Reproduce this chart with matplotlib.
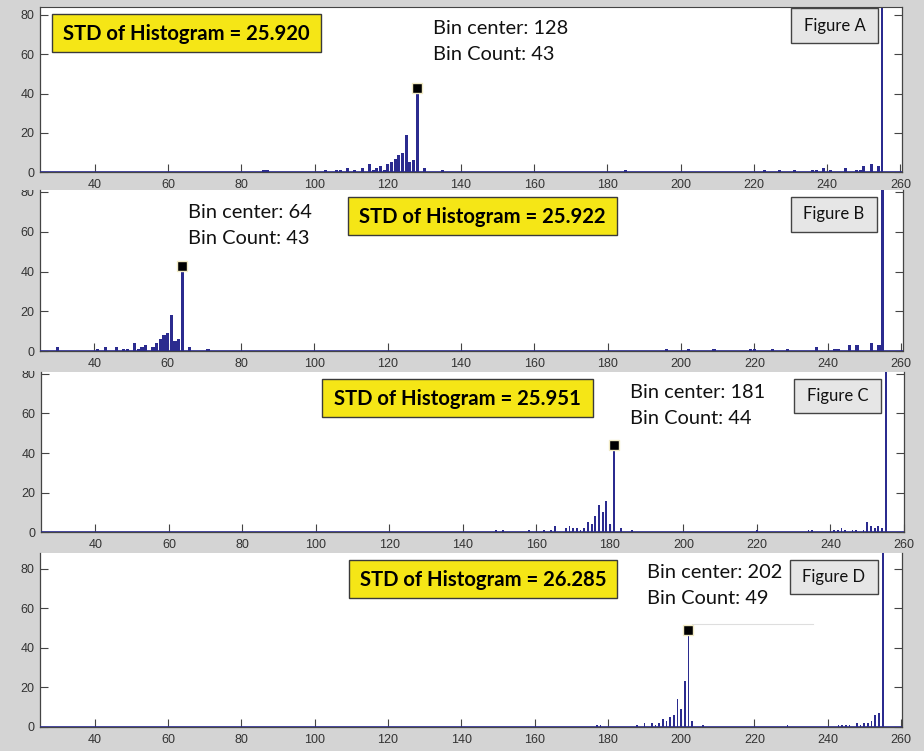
import matplotlib
matplotlib.use('Agg')
import matplotlib.pyplot as plt
from matplotlib.patches import Rectangle
from matplotlib.transforms import Bbox, TransformedBbox

# histogram bins / counts (255 spike is clipped)
a_bins = [86, 87, 103, 106, 107, 109, 111, 113, 115, 116, 117, 118, 119, 120, 121, 122, 123, 124, 125,
          126, 127, 128, 130, 135, 185, 223, 227, 231, 236, 237, 239, 241, 245, 248, 249, 250, 252, 254, 255]
a_counts = [1, 1, 1, 1, 1, 2, 1, 2, 4, 1, 2, 3, 1, 4, 5, 7, 9, 10, 19,
            5, 6, 40, 2, 1, 1, 1, 1, 1, 1, 1, 2, 1, 2, 1, 1, 3, 4, 3, 300]

b_bins = [30, 41, 43, 46, 48, 49, 51, 52, 53, 54, 56, 57, 58, 59, 60, 61, 62, 63, 64, 66, 71,
          196, 202, 209, 219, 220, 225, 229, 237, 242, 243, 246, 248, 252, 254, 255]
b_counts = [2, 1, 2, 2, 1, 1, 4, 1, 2, 3, 2, 4, 6, 8, 9, 18, 5, 6, 40, 2, 1,
            1, 1, 1, 1, 1, 1, 1, 2, 1, 1, 3, 3, 4, 3, 300]

c_bins = [149, 151, 158, 162, 164, 165, 168, 169, 170, 171, 172, 173, 174, 175, 176, 177, 178, 179, 180,
          181, 183, 186, 220, 234, 235, 241, 242, 243, 244, 246, 247, 249, 250, 251, 252, 253, 254, 255]
c_counts = [1, 1, 1, 1, 1, 3, 2, 3, 2, 2, 1, 2, 5, 4, 8, 14, 10, 16, 4,
            41, 2, 1, 1, 1, 1, 1, 1, 2, 1, 1, 1, 1, 5, 3, 2, 3, 2, 300]

d_bins = [177, 178, 188, 190, 192, 193, 194, 195, 196, 197, 198, 199, 200, 201, 202, 203, 206,
          229, 243, 244, 245, 246, 248, 249, 250, 251, 252, 253, 254, 255]
d_counts = [1, 1, 1, 2, 2, 1, 2, 4, 3, 5, 6, 14, 9, 23, 46, 3, 1,
            1, 1, 1, 1, 1, 2, 1, 2, 2, 3, 6, 7, 300]

peak_centers = [128, 64, 181, 202]
peak_counts = [43, 43, 44, 49]
std_values = ['25.920', '25.922', '25.951', '26.285']
panel_names = ['Figure A', 'Figure B', 'Figure C', 'Figure D']

W, H = 924, 751
BG = '#d4d4d4'
BAR = '#2b2b8f'
INK = '#333333'

fig = plt.figure(figsize=(W / 100, H / 100), dpi=100, facecolor=BG)


def px_rect(l, t, r, b):
    return [l / W, 1 - b / H, (r - l) / W, (b - t) / H]


def draw_panel(rect, xlim, ytop, bins, counts, width, spike_w, peak, band, top_spine):
    l, t, r, b = rect
    ax = fig.add_axes(px_rect(l, t, r, b))
    widths = [spike_w if x == 255 else width for x in bins]
    ax.bar(bins, counts, width=widths, color=BAR, edgecolor='none', zorder=2)
    ax.axhline(0, color=BAR, lw=1.2, zorder=3)
    ax.plot([peak[0]], [peak[1]], 's', ms=6.5, mfc='black', mec='#f2ebc6', mew=1,
            clip_on=False, zorder=6)
    ax.set_xlim(*xlim)
    ax.set_ylim(0, ytop)
    ax.set_xticks(range(40, 261, 20))
    ax.set_yticks(range(0, 81, 20))
    ax.tick_params(direction='in', length=6, width=0.8, color='#444444',
                   labelsize=9, labelcolor=INK, right=True)
    ax.tick_params(axis='x', pad=5)
    ax.tick_params(axis='y', pad=4)
    for s in ['left', 'right', 'bottom']:
        ax.spines[s].set_color('#444444')
        ax.spines[s].set_linewidth(0.9)
    ax.spines['top'].set_visible(top_spine)
    ax.spines['top'].set_color('#444444')
    # each panel is a cropped screenshot: clip its labels to its own band
    cb = TransformedBbox(Bbox.from_extents(0, 1 - band[1] / H, 1, 1 - band[0] / H), fig.transFigure)
    for lab in ax.get_xticklabels() + ax.get_yticklabels():
        lab.set_fontfamily('Liberation Sans')
        lab.set_clip_box(cb)
        lab.set_clip_on(True)
    return ax


panels = [
    dict(rect=(40, 7, 901.5, 172.3), xlim=(25, 260.3), ytop=84, bins=a_bins, counts=a_counts,
         width=0.85, spike_w=0.45, band=(0, 189.5), top=True),
    dict(rect=(40, 190, 902.5, 351.3), xlim=(25.2, 260.4), ytop=81, bins=b_bins, counts=b_counts,
         width=0.85, spike_w=0.9, band=(189.5, 370.5), top=False),
    dict(rect=(41, 371.5, 904, 532.3), xlim=(25.2, 260), ytop=81.2, bins=c_bins, counts=c_counts,
         width=0.5, spike_w=0.6, band=(370.5, 551), top=False),
    dict(rect=(40, 552.5, 902, 726.7), xlim=(25, 260.3), ytop=88.3, bins=d_bins, counts=d_counts,
         width=0.45, spike_w=0.55, band=(551, 751), top=False),
]

axes = []
for i, p in enumerate(panels):
    axes.append(draw_panel(p['rect'], p['xlim'], p['ytop'], p['bins'], p['counts'], p['width'],
                           p['spike_w'], (peak_centers[i], peak_counts[i]), p['band'], p['top']))

# thin grey leader line next to the data cursor in panel D
axes[3].plot([peak_centers[3] + 1, 236], [52, 52], color='#dedede', lw=0.8, zorder=1)

# overlay in pixel coordinates for the annotation boxes
ov = fig.add_axes([0, 0, 1, 1], zorder=10)
ov.set_xlim(0, W)
ov.set_ylim(H, 0)
ov.axis('off')
ov.patch.set_alpha(0)

std_boxes = [(52, 14, 321, 52), (348, 197, 617, 235), (322, 379, 593, 417), (349, 560, 617, 598)]
bin_text_pos = [(433, 28), (188, 213), (630, 392), (647, 573)]
name_boxes = [(791, 8, 878, 43), (791, 197, 877, 232), (794, 379, 881, 413), (790, 560, 878, 594)]

for i in range(4):
    l, t, r, b = std_boxes[i]
    ov.add_patch(Rectangle((l, t), r - l, b - t, facecolor='#f5e616', edgecolor='#3a3a3a', lw=1))
    ov.text((l + r) / 2, (t + b) / 2 + 1, f'STD of Histogram = {std_values[i]}', ha='center',
            va='center', fontsize=14.6, fontweight='bold', family='Lato', color='black')

    x, y = bin_text_pos[i]
    ov.text(x, y, f'Bin center: {peak_centers[i]}', ha='left', va='center', fontsize=14.4,
            family='Lato', color='#111111')
    ov.text(x, y + 26, f'Bin Count: {peak_counts[i]}', ha='left', va='center', fontsize=14.4,
            family='Lato', color='#111111')

    l, t, r, b = name_boxes[i]
    ov.add_patch(Rectangle((l, t), r - l, b - t, facecolor='#e6e6e6', edgecolor='#444444', lw=1))
    ov.text((l + r) / 2, (t + b) / 2, panel_names[i], ha='center', va='center', fontsize=12,
            family='Lato', color='#111111')

fig.savefig('out.png', dpi=100, facecolor=BG)
